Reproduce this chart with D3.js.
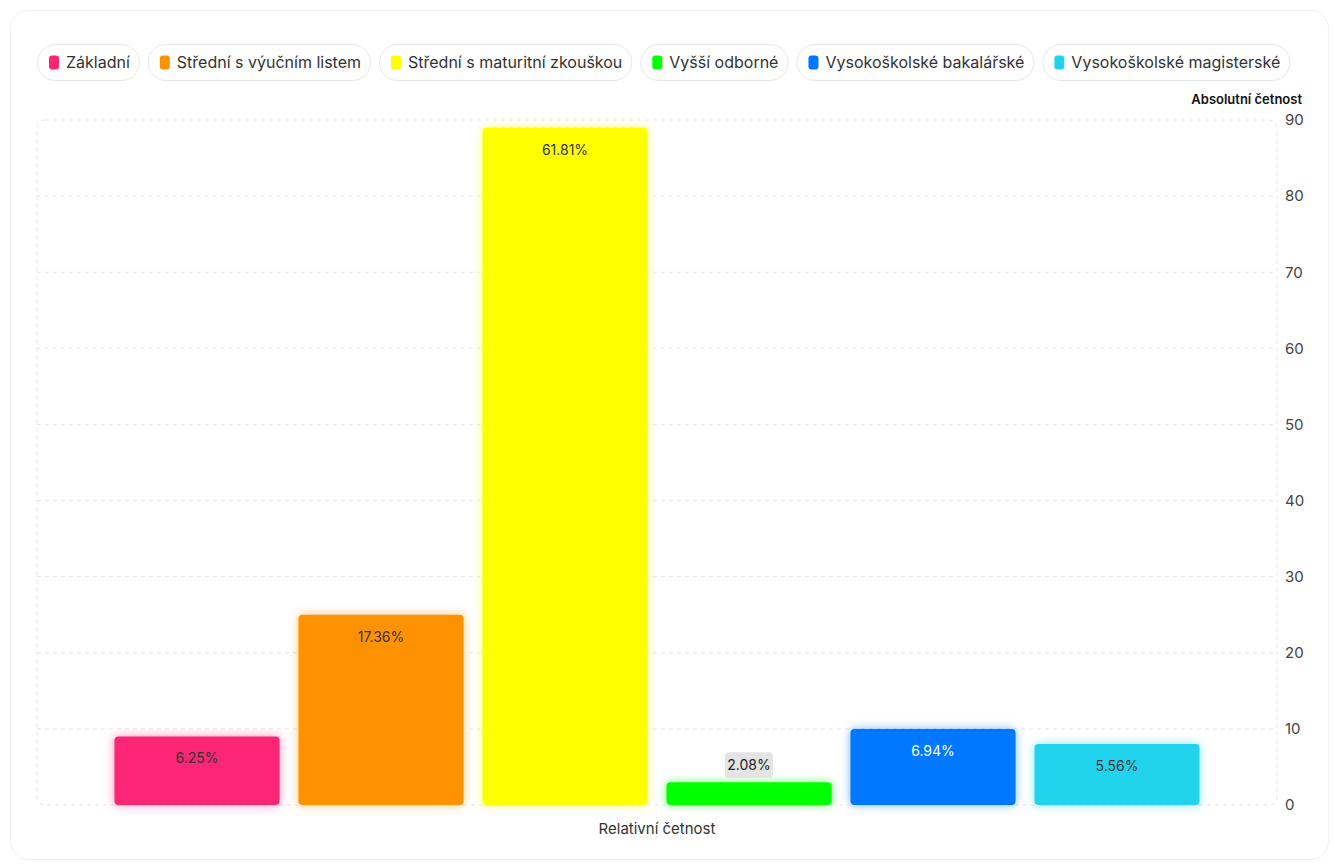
<!DOCTYPE html>
<html>
<head>
<meta charset="utf-8">
<script src="https://cdn.jsdelivr.net/npm/d3@7"></script>
<style>
  html, body { margin: 0; padding: 0; background: #fff; }
  body { font-family: Inter, "Noto Sans", sans-serif; }
</style>
</head>
<body>
<div id="chart"></div>
<script>
const categories = ["Základní", "Střední s výučním listem", "Střední s maturitní zkouškou", "Vyšší odborné", "Vysokoškolské bakalářské", "Vysokoškolské magisterské"];
const counts = [9, 25, 89, 3, 10, 8];
const percentLabels = ["6.25%", "17.36%", "61.81%", "2.08%", "6.94%", "5.56%"];
const colors = ["#fb2576", "#ff9200", "#ffff00", "#00ff00", "#0077ff", "#22d3ee"];
const labelColors = ["#333", "#333", "#333", "#222", "#fff", "#333"];
const yTicks = [0, 10, 20, 30, 40, 50, 60, 70, 80, 90];

const W = 1333, H = 864;
const plot = { left: 37, right: 1277, top: 120, bottom: 805 };

const svg = d3.select("#chart")
    .append("svg")
    .attr("width", W)
    .attr("height", H)
    .style("display", "block");

// card outline
svg.append("rect")
    .attr("x", 10.5).attr("y", 10.5)
    .attr("width", 1318).attr("height", 849)
    .attr("rx", 18)
    .attr("fill", "#fff")
    .attr("stroke", "#f0f0f0");

const defs = svg.append("defs");
colors.forEach((c, i) => {
    const f = defs.append("filter")
        .attr("id", "glow" + i)
        .attr("x", "-30%").attr("y", "-30%")
        .attr("width", "160%").attr("height", "160%");
    f.append("feDropShadow")
        .attr("dx", 0).attr("dy", 0)
        .attr("stdDeviation", 5)
        .attr("flood-color", c)
        .attr("flood-opacity", 0.55);
});

const x = d3.scaleBand()
    .domain(categories)
    .range([plot.left, plot.right])
    .paddingInner(0.103)
    .paddingOuter(0.421);

const y = d3.scaleLinear()
    .domain([0, 90])
    .range([plot.bottom, plot.top]);

// grid
svg.append("g")
    .selectAll("line")
    .data(yTicks.filter(t => t > 0 && t < 90))
    .join("line")
    .attr("x1", plot.left).attr("x2", plot.right)
    .attr("y1", d => y(d)).attr("y2", d => y(d))
    .attr("stroke", "#e6e6e6")
    .attr("stroke-dasharray", "4,4");

svg.append("rect")
    .attr("x", plot.left).attr("y", y(90))
    .attr("width", plot.right - plot.left)
    .attr("height", y(0) - y(90))
    .attr("rx", 8)
    .attr("fill", "none")
    .attr("stroke", "#e6e6e6")
    .attr("stroke-dasharray", "4,4");

// right axis
const yAxis = svg.append("g")
    .attr("transform", `translate(${plot.right}, 0)`)
    .call(d3.axisRight(y).tickValues(yTicks).tickSize(0).tickPadding(8));
yAxis.select(".domain").remove();
yAxis.selectAll("text")
    .style("font-family", "Inter, sans-serif")
    .style("font-size", "15px")
    .attr("fill", "#444");

svg.append("text")
    .attr("x", 1302)
    .attr("y", 104)
    .attr("text-anchor", "end")
    .style("font-size", "13px")
    .style("font-weight", "600")
    .attr("fill", "#111")
    .text("Absolutní četnost");

svg.append("text")
    .attr("x", (plot.left + plot.right) / 2)
    .attr("y", 834)
    .attr("text-anchor", "middle")
    .style("font-size", "15px")
    .attr("fill", "#333")
    .text("Relativní četnost");

// bars
svg.append("g")
    .selectAll("rect")
    .data(categories)
    .join("rect")
    .attr("x", d => x(d))
    .attr("y", (d, i) => y(counts[i]))
    .attr("width", x.bandwidth())
    .attr("height", (d, i) => y(0) - y(counts[i]))
    .attr("rx", 4)
    .attr("fill", (d, i) => colors[i])
    .attr("filter", (d, i) => `url(#glow${i})`);

// value labels
const labels = svg.append("g")
    .selectAll("g")
    .data(categories)
    .join("g")
    .attr("transform", (d, i) => {
        const h = y(0) - y(counts[i]);
        const ly = h > 40 ? y(counts[i]) + 22 : y(counts[i]) - 17;
        return `translate(${x(d) + x.bandwidth() / 2}, ${ly})`;
    });

labels.filter((d, i) => y(0) - y(counts[i]) <= 40)
    .append("rect")
    .attr("x", -24).attr("y", -13)
    .attr("width", 48).attr("height", 26)
    .attr("rx", 4)
    .attr("fill", "#e4e4e4");

labels.append("text")
    .attr("text-anchor", "middle")
    .attr("dy", "0.35em")
    .style("font-size", "14px")
    .attr("fill", (d, i) => labelColors[i])
    .text((d, i) => percentLabels[i]);

// legend pills
const legend = svg.append("g").attr("transform", "translate(37, 44)");
let xOffset = 0;
const items = legend.selectAll("g")
    .data(categories)
    .join("g");

items.append("text")
    .attr("x", 29)
    .attr("y", 18)
    .attr("dy", "0.35em")
    .style("font-size", "16px")
    .attr("fill", "#333")
    .text(d => d);

items.each(function (d, i) {
    const g = d3.select(this);
    const tw = g.select("text").node().getComputedTextLength();
    const w = tw + 38;
    g.insert("rect", "text")
        .attr("x", 0.5).attr("y", 0.5)
        .attr("width", w).attr("height", 36)
        .attr("rx", 18)
        .attr("fill", "#fff")
        .attr("stroke", "#e6e6e6");
    g.insert("rect", "text")
        .attr("x", 12).attr("y", 11.5)
        .attr("width", 10).attr("height", 14)
        .attr("rx", 3)
        .attr("fill", colors[i]);
    g.attr("transform", `translate(${xOffset}, 0)`);
    xOffset += w + 9;
});
</script>
</body>
</html>
